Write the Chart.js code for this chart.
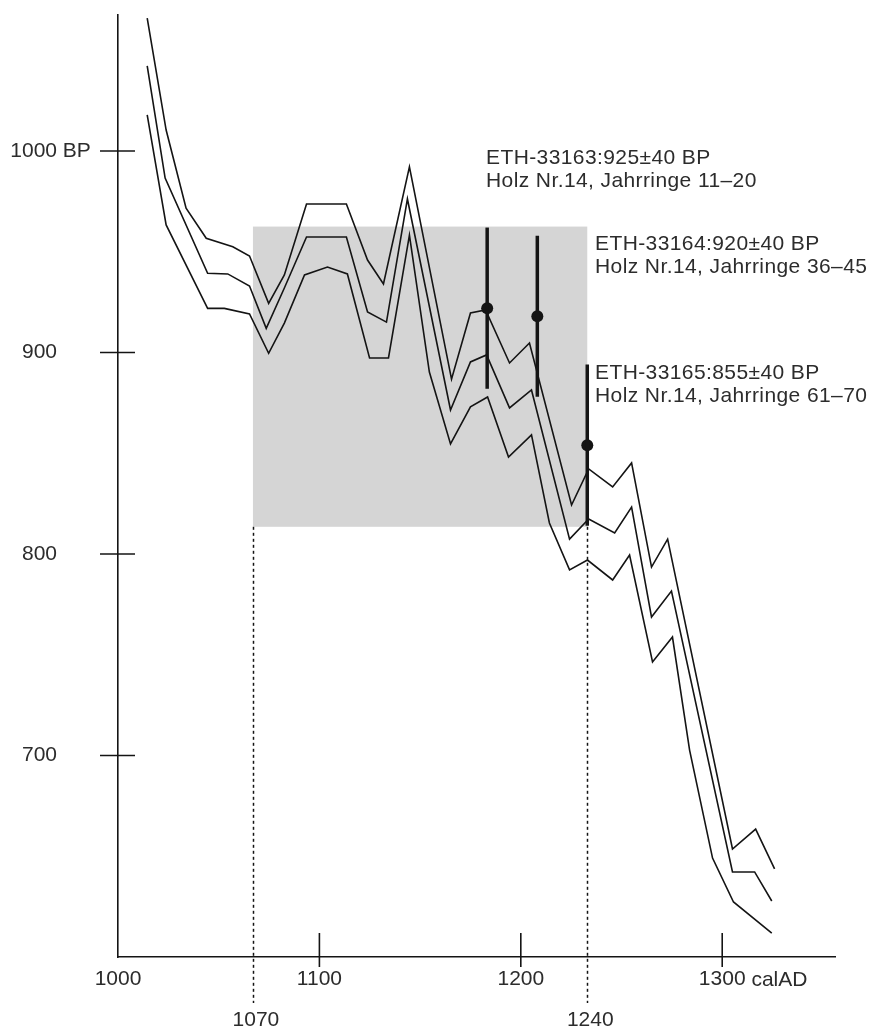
<!DOCTYPE html>
<html>
<head>
<meta charset="utf-8">
<script src="https://cdn.jsdelivr.net/npm/chart.js@4.4.1/dist/chart.umd.min.js"></script>
<style>
  html, body { margin: 0; padding: 0; background: #fff; }
  #wrap { width: 873px; height: 1030px; }
</style>
</head>
<body>
<div id="wrap"><canvas id="calChart"></canvas></div>
<script>
// Calibration band (upper / middle / lower line), cal AD vs. BP
const upperYears = [1014.5, 1023.9, 1033.8, 1043.8, 1057.0, 1065.3, 1074.8, 1082.6, 1093.6, 1113.4, 1123.9, 1131.8, 1144.7, 1165.6, 1175.0, 1182.5, 1194.4, 1204.3, 1225.2, 1233.7, 1245.6, 1255.0, 1264.9, 1272.9, 1305.1, 1316.6, 1326.0];
const upperBP = [1065.9, 1010.4, 971.6, 956.7, 952.5, 947.9, 924.4, 938.5, 973.7, 973.7, 945.9, 934.0, 992.1, 886.8, 919.6, 921.1, 894.8, 904.7, 824.3, 842.2, 833.3, 845.2, 793.5, 807.4, 653.6, 663.5, 643.7];

const midYears = [1014.5, 1023.4, 1044.5, 1054.5, 1065.3, 1073.6, 1082.6, 1093.6, 1113.4, 1123.9, 1133.3, 1143.7, 1165.1, 1175.0, 1183.0, 1194.4, 1205.3, 1224.2, 1233.7, 1246.6, 1255.0, 1264.9, 1274.8, 1305.1, 1316.1, 1324.6];
const midBP = [1042.2, 986.6, 939.3, 939.0, 933.0, 912.0, 932.0, 957.3, 957.3, 920.1, 915.1, 976.2, 871.5, 895.3, 898.8, 872.5, 881.4, 807.4, 817.4, 810.4, 823.3, 768.7, 781.6, 642.2, 642.2, 627.8];

const lowerYears = [1014.5, 1023.9, 1044.5, 1052.8, 1065.3, 1074.8, 1082.6, 1092.6, 1104.0, 1113.9, 1124.9, 1134.3, 1144.7, 1154.6, 1165.1, 1175.0, 1183.5, 1193.9, 1205.3, 1214.2, 1224.2, 1233.1, 1245.6, 1254.0, 1265.4, 1275.3, 1283.8, 1295.2, 1305.6, 1324.6];
const lowerBP = [1017.9, 963.3, 921.9, 921.9, 919.1, 899.6, 914.6, 938.5, 942.4, 939.0, 897.3, 897.3, 958.3, 890.3, 854.6, 873.0, 877.9, 848.1, 859.1, 815.4, 792.1, 797.0, 787.1, 799.5, 746.4, 758.8, 702.7, 649.1, 627.3, 611.9];

// Radiocarbon dates (position as drawn, +/- error)
const sampleYears = [1183.3, 1208.2, 1233.0];
const sampleBP = [922, 918, 854];
const sampleErr = [40, 40, 40];
const sampleTitles = ['ETH-33163:925±40 BP', 'ETH-33164:920±40 BP', 'ETH-33165:855±40 BP'];
const sampleNotes = ['Holz Nr.14, Jahrringe 11–20', 'Holz Nr.14, Jahrringe 36–45', 'Holz Nr.14, Jahrringe 61–70'];

// Calibrated range box
const rangeYears = [1067, 1233];
const rangeLabels = ['1070', '1240'];
const rangeBP = [813.5, 962.5];

// Axis ticks
const xTicks = [1000, 1100, 1200, 1300];
const yTicks = [700, 800, 900, 1000];

// Style
const INK = '#141414';
const TEXT = '#2c2c2c';
const BOX = '#d5d5d5';
const FONT = "'Liberation Sans', Arial, sans-serif";
const FONT_SIZE = 21;

const toPoints = (xs, ys) => xs.map((x, i) => ({ x, y: ys[i] }));

const curve = (xs, ys) => ({
  data: toPoints(xs, ys),
  showLine: true,
  borderColor: INK,
  borderWidth: 1.6,
  borderJoinStyle: 'miter',
  pointRadius: 0,
  fill: false,
  tension: 0
});

// Error bars: one short vertical line per date
const errorBars = sampleYears.map((yr, i) => ({
  data: [
    { x: yr, y: sampleBP[i] - sampleErr[i] },
    { x: yr, y: sampleBP[i] + sampleErr[i] }
  ],
  showLine: true,
  borderColor: INK,
  borderWidth: 3.5,
  borderCapStyle: 'butt',
  pointRadius: 0
}));

// Box, dashed drop lines, cross ticks and text
const annotationPlugin = {
  id: 'annotations',
  beforeDatasetsDraw(chart) {
    const { ctx, scales: { x, y }, chartArea } = chart;
    const left = x.getPixelForValue(rangeYears[0]);
    const right = x.getPixelForValue(rangeYears[1]);
    const top = y.getPixelForValue(rangeBP[1]);
    const bottom = y.getPixelForValue(rangeBP[0]);

    ctx.save();
    ctx.fillStyle = BOX;
    ctx.fillRect(left, top, right - left, bottom - top);

    ctx.setLineDash([3, 3]);
    ctx.lineWidth = 1.5;
    ctx.strokeStyle = INK;
    rangeYears.forEach((yr) => {
      const px = Math.round(x.getPixelForValue(yr)) + 0.5;
      ctx.beginPath();
      ctx.moveTo(px, bottom);
      ctx.lineTo(px, chartArea.bottom + 46);
      ctx.stroke();
    });
    ctx.restore();
  },
  afterDraw(chart) {
    const { ctx, scales: { x, y }, chartArea } = chart;
    ctx.save();
    ctx.strokeStyle = INK;
    ctx.lineWidth = 1.6;

    // tick marks crossing the axes
    yTicks.forEach((v) => {
      const py = y.getPixelForValue(v);
      ctx.beginPath();
      ctx.moveTo(chartArea.left - 18, py);
      ctx.lineTo(chartArea.left + 17, py);
      ctx.stroke();
    });
    xTicks.slice(1).forEach((v) => {
      const px = x.getPixelForValue(v);
      ctx.beginPath();
      ctx.moveTo(px, chartArea.bottom - 24);
      ctx.lineTo(px, chartArea.bottom + 10);
      ctx.stroke();
    });

    ctx.fillStyle = TEXT;
    ctx.font = `${FONT_SIZE}px ${FONT}`;
    ctx.textBaseline = 'middle';

    // unit suffixes
    ctx.textAlign = 'left';
    ctx.fillText(' BP', chartArea.left - 61, y.getPixelForValue(1000));
    const lastX = x.getPixelForValue(xTicks[xTicks.length - 1]);
    const halfW = ctx.measureText(String(xTicks[xTicks.length - 1])).width / 2;
    ctx.fillText(' calAD', lastX + halfW, chartArea.bottom + 23);

    // range labels under the dashed lines
    ctx.textAlign = 'center';
    rangeYears.forEach((yr, i) => {
      ctx.fillText(rangeLabels[i], x.getPixelForValue(yr) + 3, chartArea.bottom + 63);
    });

    // sample labels
    ctx.textAlign = 'left';
    ctx.letterSpacing = '0.4px';
    const labelPos = [[486, 158], [595, 244], [595, 373]];
    sampleTitles.forEach((t, i) => {
      const [lx, ly] = labelPos[i];
      ctx.fillText(t, lx, ly);
      ctx.fillText(sampleNotes[i], lx, ly + 23.5);
    });
    ctx.restore();
  }
};

new Chart(document.getElementById('calChart'), {
  type: 'scatter',
  data: {
    datasets: [
      curve(upperYears, upperBP),
      curve(midYears, midBP),
      curve(lowerYears, lowerBP),
      ...errorBars,
      {
        data: toPoints(sampleYears, sampleBP),
        pointRadius: 6,
        pointBackgroundColor: INK,
        pointBorderWidth: 0,
        showLine: false
      }
    ]
  },
  options: {
    responsive: true,
    maintainAspectRatio: false,
    animation: false,
    layout: { padding: { top: 15, right: 38, left: 0, bottom: 0 } },
    plugins: {
      legend: { display: false },
      tooltip: { enabled: false }
    },
    scales: {
      x: {
        type: 'linear',
        min: 1000,
        max: 1356,
        afterBuildTicks: (s) => { s.ticks = xTicks.map((v) => ({ value: v })); },
        afterFit: (s) => { s.height = 73; s.paddingLeft = 0; s.paddingRight = 0; },
        grid: { display: false, drawTicks: false },
        border: { display: true, color: INK, width: 1.6 },
        ticks: {
          color: TEXT,
          font: { family: FONT, size: FONT_SIZE },
          padding: 10,
          maxRotation: 0,
          autoSkip: false,
          callback: (v) => String(v)
        }
      },
      y: {
        type: 'linear',
        min: 600,
        max: 1067.5,
        afterBuildTicks: (s) => { s.ticks = yTicks.map((v) => ({ value: v })); },
        afterFit: (s) => { s.width = 118; s.paddingTop = 0; s.paddingBottom = 0; },
        grid: { display: false, drawTicks: false },
        border: { display: true, color: INK, width: 1.6 },
        ticks: {
          color: TEXT,
          font: { family: FONT, size: FONT_SIZE },
          padding: 61,
          autoSkip: false,
          callback: (v) => String(v)
        }
      }
    }
  },
  plugins: [annotationPlugin]
});
</script>
</body>
</html>
